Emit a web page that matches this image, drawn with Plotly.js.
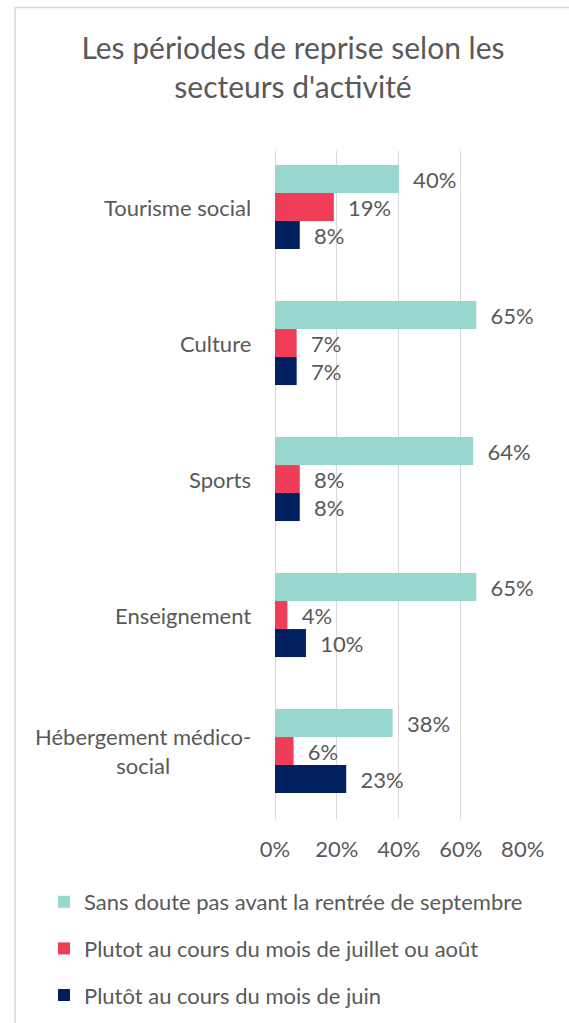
<!DOCTYPE html>
<html>
<head>
<meta charset="utf-8">
<script src="https://cdn.plot.ly/plotly-3.0.1.min.js"></script>
<style>html,body{margin:0;padding:0;background:#fff;}#chart{width:569px;height:1023px;}</style>
</head>
<body>
<div id="chart"></div>
<script>
const categories = ["Tourisme social", "Culture", "Sports", "Enseignement", "Hébergement médico-social"];
const categoryLabels = ["Tourisme social", "Culture", "Sports", "Enseignement", "Hébergement médico-<br>social"];
const seriesNames = ["Sans doute pas avant la rentrée de septembre", "Plutot au cours du mois de juillet ou août", "Plutôt au cours du mois de juin"];
const septembre = [0.40, 0.65, 0.64, 0.65, 0.38];
const juilletAout = [0.19, 0.07, 0.08, 0.04, 0.06];
const juin = [0.08, 0.07, 0.08, 0.10, 0.23];
const tickValues = [0, 0.2, 0.4, 0.6, 0.8];
const tickLabels = ["0%", "20%", "40%", "60%", "80%"];

const colors = ["#98D7CE", "#F03E58", "#002060"];
const FONT = "Lato, 'Open Sans', sans-serif";
const GRAY = "#595959";
const FS = 22;
const W = 569, H = 1023;
const series = [septembre, juilletAout, juin];

const traces = series.map((vals, i) => ({
  type: "bar",
  orientation: "h",
  name: seriesNames[i],
  legendgroup: "g" + i,
  y: categories,
  x: vals,
  marker: {color: colors[i], line: {width: 0}},
  text: vals.map(v => "\u00a0\u00a0" + Math.round(v * 100) + "%"),
  texttemplate: "%{text}",
  textposition: "outside",
  constraintext: "none",
  cliponaxis: false,
  textfont: {family: FONT, size: FS, color: GRAY},
  hoverinfo: "skip"
}));

const annotations = categories.map((c, i) => ({
  xref: "x domain", yref: "y",
  x: 0, y: c,
  xanchor: "right", yanchor: "middle",
  xshift: -22,
  text: categoryLabels[i],
  align: "center",
  showarrow: false,
  font: {family: FONT, size: FS, color: GRAY}
}));

const layout = {
  width: W, height: H,
  margin: {l: 0, r: 0, t: 0, b: 0, pad: 0, autoexpand: false},
  paper_bgcolor: "#fff", plot_bgcolor: "#fff",
  font: {family: FONT, color: GRAY},
  title: {
    text: "Les périodes de reprise selon les<br>secteurs d'activité",
    font: {family: FONT, size: 30, color: GRAY},
    x: 293 / W, xref: "paper", xanchor: "center",
    y: 1 - 59 / H, yref: "paper", yanchor: "middle"
  },
  barmode: "group",
  bargap: 0.382,
  bargroupgap: 0,
  xaxis: {
    domain: [275 / W, 522.7 / W],
    range: [0, 0.8],
    tickvals: tickValues, ticktext: tickLabels,
    showgrid: true, gridcolor: "#D9D9D9", gridwidth: 1,
    zeroline: true, zerolinecolor: "#D9D9D9", zerolinewidth: 1,
    showline: false,
    ticks: "", ticklabelstandoff: 15,
    tickfont: {family: FONT, size: FS, color: GRAY},
    automargin: false,
    fixedrange: true
  },
  yaxis: {
    domain: [(H - 818.5) / H, (H - 151) / H],
    type: "category",
    categoryorder: "array", categoryarray: categories,
    range: [4.496, -0.412],
    showticklabels: false,
    showgrid: false, zeroline: false, showline: false, ticks: "",
    automargin: false,
    fixedrange: true
  },
  showlegend: true,
  legend: {
    orientation: "v",
    traceorder: "grouped",
    tracegroupgap: 15,
    xref: "paper", yref: "paper",
    x: 44 / W, y: 1 - 881 / H,
    xanchor: "left", yanchor: "top",
    font: {family: FONT, size: FS, color: GRAY},
    bgcolor: "rgba(0,0,0,0)"
  },
  annotations: annotations,
  shapes: [{
    type: "rect", xref: "paper", yref: "paper",
    x0: 15 / W, x1: 1.05,
    y0: -0.05, y1: 1 - 7.5 / H,
    line: {color: "#D9D9D9", width: 1.5},
    fillcolor: "rgba(0,0,0,0)", layer: "below"
  }]
};

Plotly.newPlot("chart", traces, layout, {displayModeBar: false, staticPlot: true});
</script>
</body>
</html>
